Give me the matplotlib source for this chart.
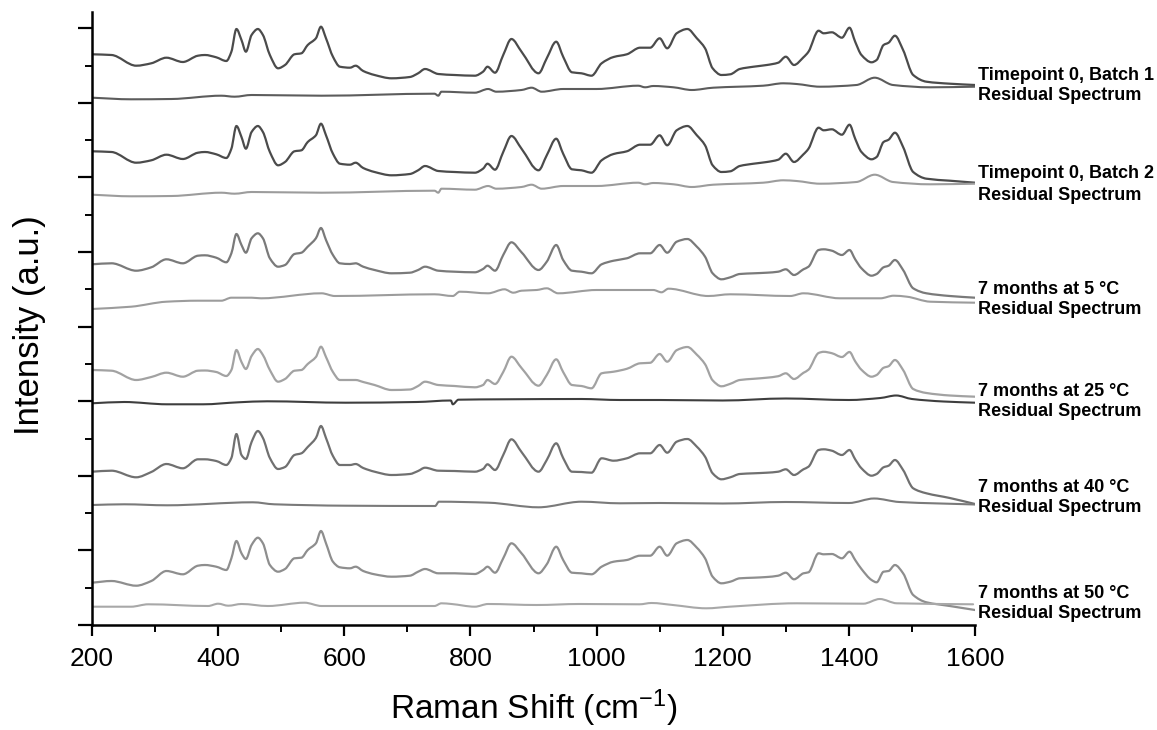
import matplotlib
matplotlib.use('Agg')
import matplotlib.pyplot as plt
from matplotlib.ticker import MultipleLocator
from matplotlib.path import Path
from matplotlib.patches import PathPatch

plt.rcParams['font.family'] = ['Liberation Sans', 'DejaVu Sans']
plt.rcParams['mathtext.fontset'] = 'custom'
plt.rcParams['mathtext.rm'] = 'Liberation Sans'
plt.rcParams['mathtext.default'] = 'regular'

# Raman shift grid used for the six measured spectra (cm-1)
wavenumber = [200, 231, 270, 294, 318, 344, 368, 379, 397, 413, 421, 429, 437, 444, 453, 463, 471, 482,
              495, 506, 521, 532, 542, 555, 563, 571, 582, 593, 609, 618, 630, 648, 675, 704, 717, 728,
              749, 775, 807, 820, 827, 839, 852, 865, 881, 908, 921, 936, 947, 961, 976, 992, 1008, 1027,
              1048, 1069, 1085, 1100, 1112, 1127, 1144, 1159, 1172, 1184, 1198, 1212, 1227, 1249, 1270,
              1288, 1300, 1313, 1328, 1336, 1352, 1360, 1373, 1389, 1401, 1410, 1420, 1436, 1444, 1455,
              1463, 1473, 1486, 1502, 1523, 1560, 1600]

# stacked intensities (a.u.), already offset as in the figure
batch1 = [570.7, 570, 559.3, 561.7, 567.3, 563, 569.3, 570, 567.7, 564, 573.3, 596, 585, 573.3, 590, 596,
          590, 570, 556.7, 560, 570.7, 571.7, 580, 586.7, 598.3, 586.7, 568.3, 558.3, 557.3, 559.3, 554,
          550, 546.7, 548, 551.7, 556, 551, 550, 549.3, 553.3, 558.3, 552.3, 570, 586, 573.3, 551.7,
          566.7, 583.3, 568.3, 552.7, 551.7, 549.3, 561.7, 568, 570.7, 577.3, 577.3, 586.7, 576.7, 591.7,
          596, 586.7, 576.7, 556.7, 550, 550.7, 556, 558.3, 560, 562.3, 568.3, 560, 567.7, 573.3, 594.3,
          591.7, 592.7, 587.3, 597.3, 583.3, 570, 562.7, 565, 580, 582.3, 589.3, 575, 550, 543.3, 541.3,
          540]
batch2 = [473.7, 473, 462.3, 464.7, 470.3, 466, 472.3, 473, 470.7, 467, 476.3, 499, 488, 476.3, 493, 499,
          493, 473, 459.7, 463, 473.7, 474.7, 483, 489.7, 501.3, 489.7, 471.3, 461.3, 460.3, 462.3, 457,
          453, 449.7, 451, 454.7, 459, 454, 453, 452.3, 456.3, 461.3, 455.3, 473, 489, 476.3, 454.7,
          469.7, 486.3, 471.3, 455.7, 454.7, 452.3, 464.7, 471, 473.7, 480.3, 480.3, 489.7, 479.7, 494.7,
          499, 489.7, 479.7, 459.7, 453, 453.7, 459, 461.3, 463, 465.3, 471.3, 463, 470.7, 476.3, 497.3,
          494.7, 495.7, 490.3, 500.3, 486.3, 473, 465.7, 468, 483, 485.3, 492.3, 478, 453, 446.3, 444.3,
          442.3]
months5 = [360.7, 361.7, 354.3, 357.7, 365.7, 361.7, 369.3, 369.7, 367.3, 362.7, 371.7, 391, 380, 372.3,
           386.7, 391.7, 386.7, 366.7, 358.3, 360, 371, 372.3, 378.3, 386.7, 397, 385, 370, 361.7, 361,
           361.7, 358.3, 355, 351.7, 352.3, 355, 358.3, 354.3, 353.3, 352.7, 356, 359.3, 354.3, 370, 382.7,
           372.7, 355, 363.3, 380, 365, 354.3, 353.3, 351.7, 360.7, 364.3, 366.7, 371.7, 371.7, 380, 372.3,
           383.3, 386, 378.3, 368.3, 351.7, 345.7, 347.7, 351, 351.7, 352.3, 353.3, 355.7, 350, 355.7,
           358.3, 375, 375.7, 374.3, 370, 375, 365.7, 356.7, 349.3, 351, 357.7, 359.3, 365, 355, 336.7,
           331.7, 329, 327.3]
months25 = [255, 254.3, 245, 248, 252.3, 248.3, 254.3, 254.5, 253, 249, 255, 275, 263, 256, 269, 276, 270,
            255, 243.3, 246, 254.3, 255, 261, 268, 278.3, 268, 253, 245, 245, 245, 243, 240, 235, 235.5,
            239, 243.3, 240, 239, 237.7, 240, 245, 241, 253, 268.3, 257, 239.3, 250, 265.7, 253, 240, 239,
            236.7, 251.7, 253.3, 256.2, 261.7, 262.2, 271, 263.3, 274.8, 278, 270.3, 260.8, 244.7, 238.7,
            241.2, 245, 246.2, 247.3, 248.8, 251.7, 246, 252.2, 255.3, 272, 273.2, 271.8, 268, 273, 263.7,
            255.2, 248.3, 250, 257.2, 258.8, 265, 255, 236, 232, 229.5, 228.3]
months40 = [153.3, 154.3, 147.7, 153, 161, 156.7, 165.7, 165.7, 164, 160, 167, 191, 170, 166, 183, 194,
            187, 167, 156, 158, 170, 171.7, 178, 187, 199, 187, 169, 160, 160, 161, 157, 153.3, 150, 151,
            154, 157.3, 154.3, 154, 153.3, 156, 160.7, 155, 170, 185.7, 173, 153.3, 165, 181.7, 167, 153.3,
            153, 152.3, 166.7, 164.3, 166.7, 171.7, 171.7, 180, 172.3, 183.3, 186, 178.3, 168.3, 151.7,
            145.7, 147.7, 151, 151.7, 152.3, 153.3, 155.7, 150, 155.7, 158.3, 175, 175.7, 174.3, 170, 175,
            165.7, 156.7, 149.3, 151, 157.7, 159.3, 165, 155, 136.7, 131.7, 127, 121]
months50 = [42.3, 44, 39.3, 44, 54, 50.7, 59.3, 60, 58.3, 55, 66.7, 84, 71.7, 66, 80, 87.3, 81.7, 60, 53.3,
            56, 66.7, 67.3, 75, 81.7, 94, 81.7, 63.3, 57.7, 56.7, 58.3, 54, 50.7, 48.3, 49.3, 53.3, 56,
            51.7, 51.7, 51, 55, 58.3, 52.3, 66.7, 81.7, 71.7, 51.7, 60.7, 78.3, 65, 52.3, 51.7, 50.7, 58.3,
            63.3, 65, 69.3, 69.3, 78.3, 69.3, 81.7, 85, 77.3, 66.7, 48.3, 41.7, 43.3, 46.7, 47.3, 48, 49.3,
            52.3, 45.7, 51.7, 52.7, 71.7, 70.7, 71, 66.7, 73.3, 65, 56, 45, 42.7, 53.3, 54, 60, 51.7, 30,
            22.7, 19, 15]

# residual spectra
res1_x = [200, 262, 326, 405, 426, 453, 564, 743, 749, 754, 807, 828, 841, 881, 897, 913, 947, 1000, 1066,
          1077, 1090, 1122, 1151, 1185, 1264, 1296, 1317, 1354, 1412, 1441, 1470, 1529, 1600]
res1 = [527.3, 525.7, 526, 529.3, 528.3, 530, 529.3, 531.3, 529.3, 533.3, 532.3, 536, 533.3, 535, 537.3,
        533.3, 536, 536, 539.3, 537.7, 539, 537.7, 535, 537.3, 539.3, 541.7, 541, 538.3, 540, 547.3, 540,
        537.7, 538.3]
res2 = [430.3, 428.7, 429, 432.3, 431.3, 433, 432.3, 434.3, 432.3, 436.3, 435.3, 439, 436.3, 438, 440.3,
        436.3, 439, 439, 442.3, 440.7, 442, 440.7, 438, 440.3, 442.3, 444.7, 444, 441.3, 443, 450.3, 443,
        440.7, 441.3]
res5_x = [200, 262, 318, 368, 405, 421, 453, 468, 564, 585, 743, 772, 783, 828, 854, 868, 881, 905, 921,
          939, 1000, 1090, 1103, 1114, 1177, 1212, 1307, 1328, 1386, 1450, 1471, 1492, 1529, 1600]
res5 = [316, 318.3, 323.3, 324.3, 324.3, 327.3, 327.3, 326.7, 331.7, 329, 330.7, 329, 333.3, 331.7, 335.7,
        332.3, 334.3, 335, 336.7, 331.7, 335, 335, 332.7, 336.3, 329, 330.7, 329, 331.7, 326.7, 326.7,
        329.3, 328.3, 323.3, 322.3]
res25_x = [200, 251, 319, 376, 432, 478, 602, 715, 769, 772, 781, 852, 976, 1037, 1100, 1200, 1300, 1400,
           1450, 1475, 1500, 1550, 1600]
res25 = [221.7, 223, 220.7, 220.7, 222.7, 223.7, 222.3, 223, 224.5, 220.7, 225.3, 225.7, 226, 225, 225,
         224.5, 226.5, 225, 227, 229.5, 226, 223.5, 222.3]
res40_x = [200, 251, 319, 455, 489, 602, 744, 750, 829, 908, 976, 1037, 1100, 1200, 1300, 1400, 1440,
           1480, 1600]
res40 = [120, 120.7, 119.7, 122.7, 120.7, 119.3, 119, 123.3, 122.3, 117.7, 123.3, 121.7, 122, 121.5, 123,
         122, 126.5, 123, 120.5]
res50_x = [200, 262, 289, 384, 400, 416, 437, 479, 537, 564, 743, 754, 770, 807, 828, 905, 973, 1068,
           1087, 1121, 1174, 1211, 1317, 1423, 1449, 1476, 1597]
res50 = [18.3, 18.3, 20.7, 19, 21.3, 19.3, 21, 19, 22.3, 19, 19, 21.7, 21, 18.3, 21, 20, 21, 20.7, 22,
         20, 16.7, 18.3, 21.7, 21.3, 26, 21.7, 20.7]

sample_names = ['Timepoint 0, Batch 1', 'Timepoint 0, Batch 2', '7 months at 5 \u00b0C',
                '7 months at 25 \u00b0C', '7 months at 40 \u00b0C', '7 months at 50 \u00b0C']
label_y = [550, 452, 336, 234, 137, 32]
res_label_y = [530, 430, 315, 213, 117, 12]

spec_colors = ['#4b4b4b', '#4b4b4b', '#7a7a7a', '#a2a2a2', '#707070', '#8e8e8e']
res_colors = ['#5c5c5c', '#9c9c9c', '#9c9c9c', '#3e3e3e', '#7a7a7a', '#a8a8a8']

spectra = [batch1, batch2, months5, months25, months40, months50]
residuals = [(res1_x, res1), (res1_x, res2), (res5_x, res5), (res25_x, res25), (res40_x, res40),
             (res50_x, res50)]


def smooth_line(ax, x, y, **kw):
    # join the read points with a monotone cubic bezier path (no overshoot, no loops)
    n = len(x)
    d = [(y[i + 1] - y[i]) / (x[i + 1] - x[i]) for i in range(n - 1)]
    m = [d[0]]
    for i in range(1, n - 1):
        if d[i - 1] * d[i] <= 0:
            m.append(0.0)
        else:
            m.append(2.0 / (1.0 / d[i - 1] + 1.0 / d[i]))
    m.append(d[-1])
    verts = [(x[0], y[0])]
    codes = [Path.MOVETO]
    for i in range(n - 1):
        h = x[i + 1] - x[i]
        verts += [(x[i] + h / 3, y[i] + m[i] * h / 3),
                  (x[i + 1] - h / 3, y[i + 1] - m[i + 1] * h / 3),
                  (x[i + 1], y[i + 1])]
        codes += [Path.CURVE4] * 3
    ax.add_patch(PathPatch(Path(verts, codes), fill=False, capstyle='round', joinstyle='round', **kw))


f = plt.figure(figsize=(11.57, 7.30), dpi=100)
ax = f.add_axes([92 / 1157, 105 / 730, 883 / 1157, 613 / 730])

for i in range(len(spectra)):
    smooth_line(ax, wavenumber, spectra[i], edgecolor=spec_colors[i], lw=1.6)
    rx, ry = residuals[i]
    smooth_line(ax, rx, ry, edgecolor=res_colors[i], lw=1.5)
    ax.text(1.003, label_y[i], sample_names[i], transform=ax.get_yaxis_transform(),
            fontsize=13, fontweight='bold', va='center', ha='left')
    ax.text(1.003, res_label_y[i], 'Residual Spectrum', transform=ax.get_yaxis_transform(),
            fontsize=13, fontweight='bold', va='center', ha='left')

ax.set_xlim(200, 1600)
ax.set_ylim(0, 613)
ax.spines['top'].set_visible(False)
ax.spines['right'].set_visible(False)
ax.spines['left'].set_linewidth(1.8)
ax.spines['bottom'].set_linewidth(1.8)

ax.xaxis.set_major_locator(MultipleLocator(200))
ax.xaxis.set_minor_locator(MultipleLocator(100))
ax.yaxis.set_major_locator(MultipleLocator(74.6))
ax.yaxis.set_minor_locator(MultipleLocator(37.3))
ax.tick_params(axis='x', which='major', length=8, width=1.6, pad=8, labelsize=19)
ax.tick_params(axis='x', which='minor', length=5, width=1.4)
ax.tick_params(axis='y', which='major', length=10, width=1.6, labelleft=False)
ax.tick_params(axis='y', which='minor', length=5, width=1.4)

ax.set_xlabel('Raman Shift (cm$^{-1}$)', fontsize=24, labelpad=12)
ax.set_ylabel('Intensity (a.u.)', fontsize=25)
ax.yaxis.set_label_coords(-0.052, 0.49)

f.savefig('out.png', dpi=100)
